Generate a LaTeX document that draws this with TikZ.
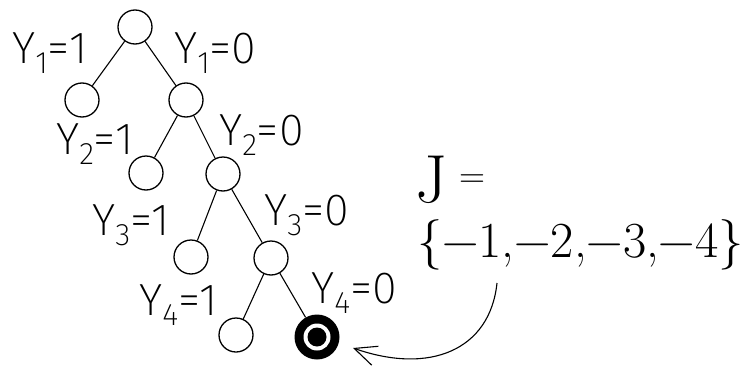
\documentclass[tikz,border=0pt]{standalone}
\usepackage{fontspec}
\newfontfamily\ythin{Fira Sans ExtraLight}
\usetikzlibrary{arrows.meta}
\newcommand{\ylab}[2]{{\ythin\fontsize{45}{45}\selectfont Y\raisebox{-10pt}{\fontsize{31}{31}\selectfont #1}=#2}}
\tikzset{
  treenode/.style={circle, draw, line width=1.3pt, minimum size=34pt, inner sep=0pt},
  goalnode/.style={circle, fill=black, minimum size=45pt, inner sep=0pt},
  edge/.style={line width=1.1pt},
  lab/.style={anchor=base west, inner sep=0pt},
  pointer/.style={line width=1.1pt, -{Straight Barb[length=22pt,width=20pt,line width=1.1pt]}}
}
\begin{document}
\begin{tikzpicture}[x=1pt,y=-1pt]
\useasboundingbox (0,0) rectangle (750,367);
% tree nodes
\node[treenode] (r)  at (135,27) {};
\node[treenode] (a1) at (82,100) {};
\node[treenode] (b1) at (186,100) {};
\node[treenode] (a2) at (146,173) {};
\node[treenode] (b2) at (223,174) {};
\node[treenode] (a3) at (191,257) {};
\node[treenode] (b3) at (271,258) {};
\node[treenode] (a4) at (236,335) {};
\node[goalnode] (g)  at (317,337) {};
\fill[white] (g.center) circle (13.5pt);
\fill[black] (g.center) circle (9.5pt);
% edges
\draw[edge] (r) -- (a1);
\draw[edge] (r) -- (b1);
\draw[edge] (b1) -- (a2);
\draw[edge] (b1) -- (b2);
\draw[edge] (b2) -- (a3);
\draw[edge] (b2) -- (b3);
\draw[edge] (b3) -- (a4);
\draw[edge] (b3) -- (g);
% labels
\node[lab] (l11) at (12,63)   {\ylab{1}{1}};
\node[lab] (l10) at (174,63)  {\ylab{1}{0}};
\node[lab] (l21) at (56,154)  {\ylab{2}{1}};
\node[lab] (l20) at (219,145) {\ylab{2}{0}};
\node[lab] (l31) at (92,235)  {\ylab{3}{1}};
\node[lab] (l30) at (264,225) {\ylab{3}{0}};
\node[lab] (l41) at (139,315) {\ylab{4}{1}};
\node[lab] (l40) at (311,303) {\ylab{4}{0}};
% J set
\node[lab] (jj) at (415,202) {\fontsize{68}{68}\selectfont J};
\node[lab] (jeq) at (459,187) {\fontsize{36}{36}\selectfont =};
\node[lab] (jset) at (417,257) {\fontsize{50.5}{50.5}\selectfont \{−1,−2,−3,−4\}};
% pointer
\coordinate (ps) at (497,283);
\coordinate (pe) at (353,348);
\draw[pointer] (ps) .. controls (490,350) and (430,375) .. (pe);
\end{tikzpicture}
\end{document}
